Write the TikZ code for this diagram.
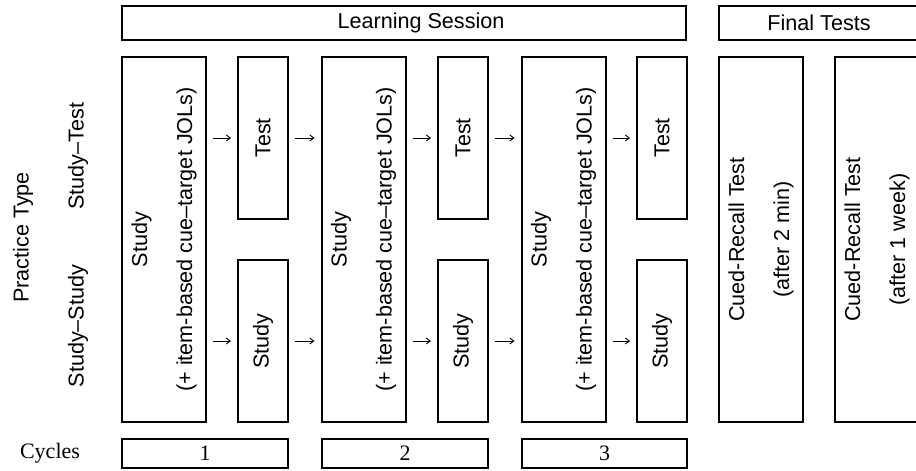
\documentclass[tikz,border=0pt]{standalone}
\usepackage{fontspec}
\setmainfont{Liberation Sans}
\newfontfamily\serifcyc{Liberation Serif}
\usetikzlibrary{arrows.meta}
\begin{document}
\begin{tikzpicture}[x=1pt,y=-1pt,
  box/.style={draw, line width=2pt, rotate=90, inner sep=0pt, align=center,
    font=\fontsize{21.6}{45}\selectfont},
  bigbox/.style={box, minimum width=365pt, minimum height=84pt},
  smallbox/.style={box, minimum width=162pt, minimum height=50pt},
  hdrbox/.style={draw, line width=2pt, minimum height=34pt, inner sep=0pt,
    font=\fontsize{21.6}{26}\selectfont},
  cycbox/.style={draw, line width=2pt, minimum height=29pt, inner sep=0pt,
    font=\serifcyc\fontsize{22}{22}\selectfont},
  lbl/.style={inner sep=0pt, font=\fontsize{21.6}{26}\selectfont},
  arr/.style={line width=0.9pt, -{Straight Barb[length=4pt,width=6pt]},
    shorten <=6pt, shorten >=6pt}]
\useasboundingbox (0,0) rectangle (916,471);
\clip (0,0) rectangle (916,471);
\fill[white] (0,0) rectangle (916,471);
% headers
\node[hdrbox, minimum width=564pt] (ls) at (404,23) {};
\node[lbl] (lstext) at (421,23) {Learning Session};
\node[hdrbox, minimum width=200pt] (ft) at (819,23) {Final Tests};
% left labels
\node[lbl, rotate=90] (pt) at (23,237.5) {Practice Type};
\node[lbl, rotate=90] (stl) at (78,156) {Study--Test};
\node[lbl, rotate=90] (ssl) at (78,326) {Study--Study};
\node[inner sep=0pt, font=\serifcyc\fontsize{22}{22}\selectfont] (cyl) at (50,453.5) {Cycles};
% cycle 1
\node[bigbox] (s1) at (164,239.5) {Study\\(+ item-based cue--target JOLs)};
\node[smallbox] (t1) at (263,138) {Test};
\node[smallbox] (ss1) at (263,341) {Study};
% cycle 2
\node[bigbox] (s2) at (363.5,239.5) {Study\\(+ item-based cue--target JOLs)};
\node[smallbox] (t2) at (463,138) {Test};
\node[smallbox] (ss2) at (463,341) {Study};
% cycle 3
\node[bigbox] (s3) at (563.5,239.5) {Study\\(+ item-based cue--target JOLs)};
\node[smallbox] (t3) at (662,138) {Test};
\node[smallbox] (ss3) at (662,341) {Study};
% final tests
\node[bigbox] (f1) at (761,239.5) {Cued-Recall Test\\(after 2 min)};
\node[bigbox] (f2) at (877,239.5) {Cued-Recall Test\\(after 1 week)};
% cycles
\node[cycbox, minimum width=166pt] (c1) at (205,453.5) {1};
\node[cycbox, minimum width=166pt] (c2) at (405,453.5) {2};
\node[cycbox, minimum width=165pt] (c3) at (604.5,453.5) {3};
% arrows
\draw[arr] (s1.south |- t1.center) -- (t1.north);
\draw[arr] (s1.south |- ss1.center) -- (ss1.north);
\draw[arr] (t1.south) -- (s2.north |- t1.center);
\draw[arr] (ss1.south) -- (s2.north |- ss1.center);
\draw[arr] (s2.south |- t2.center) -- (t2.north);
\draw[arr] (s2.south |- ss2.center) -- (ss2.north);
\draw[arr] (t2.south) -- (s3.north |- t2.center);
\draw[arr] (ss2.south) -- (s3.north |- ss2.center);
\draw[arr] (s3.south |- t3.center) -- (t3.north);
\draw[arr] (s3.south |- ss3.center) -- (ss3.north);
\end{tikzpicture}
\end{document}
